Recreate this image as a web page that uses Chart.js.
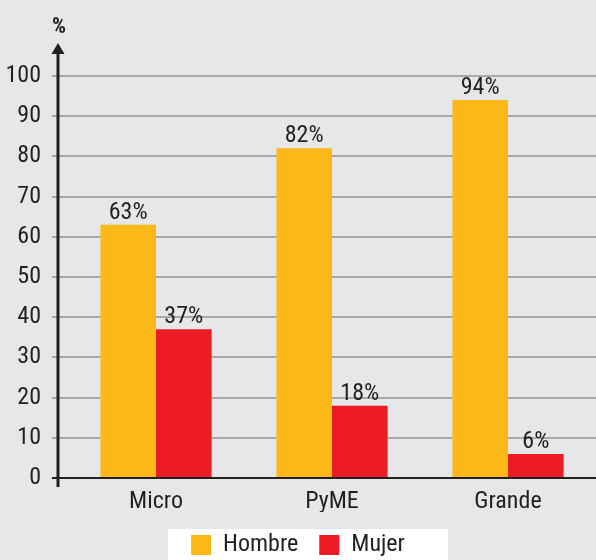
<!DOCTYPE html>
<html>
<head>
<meta charset="utf-8">
<script src="https://cdn.jsdelivr.net/npm/chart.js@4"></script>
<style>
  html, body { margin: 0; padding: 0; background: #e6e7e8; }
  #wrap { width: 596px; height: 560px; }
</style>
</head>
<body>
<div id="wrap"><canvas id="c" width="596" height="560"></canvas></div>
<script>
const categorias = ["Micro", "PyME", "Grande"]
const hombre = [63, 82, 94]
const mujer = [37, 18, 6]
const etiquetasHombre = ["63%", "82%", "94%"]
const etiquetasMujer = ["37%", "18%", "6%"]

const FONT = "'Roboto Condensed', 'DejaVu Sans Condensed', sans-serif"
const INK = "#231f20"

// white box behind the legend
const legendBg = {
    id: "legendBg",
    beforeDraw(chart) {
        const lg = chart.legend
        if (!lg || !lg.legendHitBoxes.length) return
        const hb = lg.legendHitBoxes
        const ctx = chart.ctx
        ctx.save()
        ctx.fillStyle = "#ffffff"
        const x0 = hb[0].left - 23
        const t = hb[0].top + hb[0].height / 2 - 16
        ctx.fillRect(x0, t, 280, chart.height - t)
        ctx.restore()
    }
}

// y axis with arrow and "%" label, plus value labels
const extras = {
    id: "extras",
    afterDatasetsDraw(chart) {
        const ctx = chart.ctx
        const y = chart.scales.y
        const ax = chart.chartArea.left - 10
        const top = y.getPixelForValue(100)
        const bottom = y.getPixelForValue(0)
        ctx.save()
        ctx.strokeStyle = INK
        ctx.lineWidth = 3
        ctx.beginPath()
        ctx.moveTo(ax, top - 22)
        ctx.lineTo(ax, bottom + 9)
        ctx.stroke()
        ctx.fillStyle = INK
        ctx.beginPath()
        ctx.moveTo(ax, top - 33)
        ctx.lineTo(ax - 6.5, top - 22)
        ctx.lineTo(ax + 6.5, top - 22)
        ctx.closePath()
        ctx.fill()
        ctx.font = "bold 22px " + FONT
        ctx.textAlign = "center"
        ctx.textBaseline = "alphabetic"
        ctx.fillText("%", ax + 1, top - 43)

        ctx.font = "24px " + FONT
        const labels = [etiquetasHombre, etiquetasMujer]
        chart.data.datasets.forEach((ds, i) => {
            chart.getDatasetMeta(i).data.forEach((bar, j) => {
                ctx.fillText(labels[i][j], bar.x, bar.y - 6)
            })
        })
        ctx.restore()
    }
}

new Chart(document.getElementById("c"), {
    type: "bar",
    data: {
        labels: categorias,
        datasets: [
            { label: "Hombre", data: hombre, backgroundColor: "#fbb817" },
            { label: "Mujer", data: mujer, backgroundColor: "#ed1c24" }
        ]
    },
    options: {
        responsive: false,
        animation: false,
        layout: { padding: { top: 76, right: 0, left: 0, bottom: 0 } },
        datasets: { bar: { barPercentage: 1, categoryPercentage: 0.632 } },
        plugins: {
            tooltip: { enabled: false },
            legend: {
                position: "bottom",
                maxHeight: 48,
                labels: {
                    boxWidth: 20, boxHeight: 20, padding: 21,
                    color: INK,
                    font: { family: FONT, size: 24 }
                }
            }
        },
        scales: {
            x: {
                grid: { display: false },
                border: { display: false },
                ticks: { color: INK, padding: 2, font: { family: FONT, size: 24 } },
                afterFit(s) { s.height = 34 }
            },
            y: {
                min: 0, max: 100,
                border: { display: false },
                grid: {
                    tickLength: 16,
                    lineWidth: 2,
                    color: c => c.tick && c.tick.value === 0 ? INK : "#a7a9ac"
                },
                ticks: { stepSize: 10, color: INK, padding: 11, font: { family: FONT, size: 24 } },
                afterFit(s) { s.width = 68 }
            }
        }
    },
    plugins: [legendBg, extras]
})
</script>
</body>
</html>
